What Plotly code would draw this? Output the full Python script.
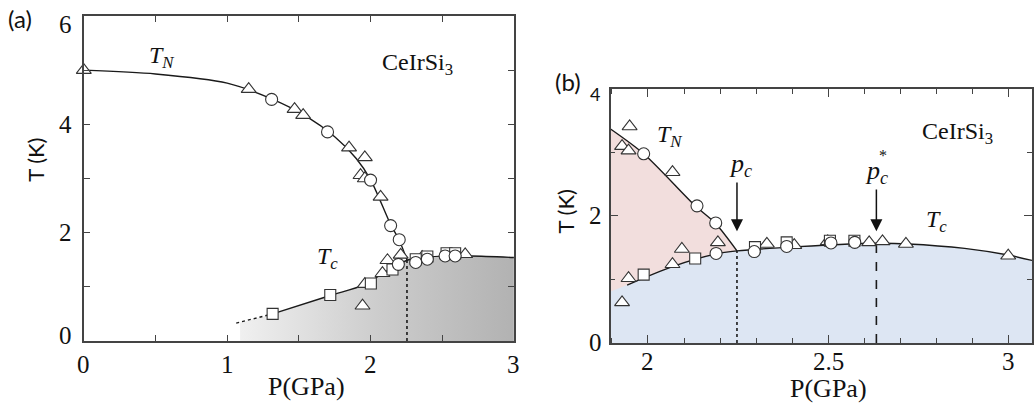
import plotly.graph_objects as go

# ---------------- Panel (a) data ----------------
a_tn_tri_p = [0.0, 1.15, 1.47, 1.53, 1.85, 1.96, 1.93, 1.96, 2.07]
a_tn_tri_t = [5.0, 4.65, 4.28, 4.17, 3.57, 3.39, 3.06, 3.00, 2.66]
a_tn_circ_p = [1.31, 1.70, 2.00, 2.14, 2.20]
a_tn_circ_t = [4.46, 3.86, 2.97, 2.13, 1.87]
a_tc_sq_p = [1.317, 1.719, 2.002, 2.153, 2.315, 2.396, 2.53, 2.59]
a_tc_sq_t = [0.50, 0.85, 1.06, 1.32, 1.51, 1.56, 1.62, 1.62]
a_tc_tri_p = [1.944, 1.96, 2.083, 2.118, 2.21, 2.36, 2.66]
a_tc_tri_t = [0.65, 1.05, 1.25, 1.49, 1.59, 1.55, 1.60]
a_tc_circ_p = [2.194, 2.315, 2.396, 2.52, 2.59]
a_tc_circ_t = [1.415, 1.45, 1.51, 1.57, 1.57]
a_tn_curve_p = [0.0, 0.5, 1.0, 1.31, 1.55, 1.75, 1.90, 2.00, 2.14, 2.20, 2.255]
a_tn_curve_t = [5.0, 4.93, 4.76, 4.47, 4.15, 3.77, 3.37, 2.98, 2.15, 1.86, 1.49]
a_tc_curve_p = [1.317, 1.719, 1.95, 2.10, 2.255, 2.40, 2.70, 3.00]
a_tc_curve_t = [0.50, 0.84, 1.03, 1.27, 1.49, 1.55, 1.57, 1.54]
a_tc_dot_p = [1.063, 1.317]
a_tc_dot_t = [0.33, 0.50]
a_fill_p = [1.09, 1.317, 1.719, 1.95, 2.10, 2.255, 2.40, 2.70, 3.00]
a_fill_t = [0.34, 0.50, 0.84, 1.03, 1.27, 1.49, 1.55, 1.57, 1.54]
a_pc_p = [2.254, 2.254]
a_pc_t = [0.0, 1.49]
a_xticks = [0, 1, 2, 3]
a_xtick_labels = ['0', '1', '2', '3']
a_yticks = [0, 2, 4, 6]
a_ytick_labels = ['0', '2', '4', '6']

# ---------------- Panel (b) data ----------------
b_tn_tri_p = [1.949, 1.928, 1.946, 2.068]
b_tn_tri_t = [3.41, 3.10, 3.03, 2.69]
b_tn_circ_p = [1.988, 2.136, 2.188]
b_tn_circ_t = [2.98, 2.16, 1.89]
b_tc_tri_p = [1.928, 1.946, 2.068, 2.094, 2.194, 2.33, 2.406, 2.499, 2.614, 2.651, 2.716, 3.0]
b_tc_tri_t = [0.64, 1.02, 1.24, 1.48, 1.585, 1.56, 1.54, 1.60, 1.585, 1.60, 1.56, 1.375]
b_tc_sq_p = [1.988, 2.131, 2.297, 2.385, 2.505, 2.573]
b_tc_sq_t = [1.076, 1.33, 1.51, 1.585, 1.61, 1.61]
b_tc_circ_p = [2.189, 2.295, 2.385, 2.508, 2.574]
b_tc_circ_t = [1.41, 1.44, 1.52, 1.575, 1.585]
b_tn_curve_p = [1.896, 1.988, 2.131, 2.187, 2.247]
b_tn_curve_t = [3.37, 2.98, 2.16, 1.885, 1.45]
b_tc_curve_p = [1.942, 2.066, 2.187, 2.247, 2.417, 2.63, 2.722, 2.879, 3.0, 3.066]
b_tc_curve_t = [0.913, 1.20, 1.40, 1.45, 1.517, 1.57, 1.56, 1.49, 1.385, 1.30]
b_blue_p = [1.896] + b_tc_curve_p
b_blue_t = [0.81] + b_tc_curve_t
b_pc_p = [2.247, 2.247]
b_pc_t = [0.0, 1.45]
b_pcs_p = [2.634, 2.634]
b_pcs_t = [0.0, 1.57]
b_xticks = [2, 2.5, 3]
b_xtick_labels = ['2', '2.5', '3']
b_yticks = [0, 2, 4]
b_ytick_labels = ['0', '2', '4']

LINE = '#1a1a1a'
MK = '#333333'
AX = '#444444'
SERIF = 'Liberation Serif'
SANS = 'Lato'

fig = go.Figure()

def line(x, y, xa, ya, dash='solid', width=1.4, shape='spline'):
    fig.add_trace(go.Scatter(x=x, y=y, mode='lines', xaxis=xa, yaxis=ya,
                             line=dict(color=LINE, width=width, dash=dash, shape=shape, smoothing=0.8),
                             hoverinfo='skip', showlegend=False))

def marks(x, y, xa, ya, sym, size):
    fig.add_trace(go.Scatter(x=x, y=y, mode='markers', xaxis=xa, yaxis=ya, cliponaxis=False,
                             marker=dict(symbol=sym, size=size, color='white',
                                         line=dict(color=MK, width=1.1)),
                             showlegend=False))

# Panel (a) fill with horizontal gradient
fig.add_trace(go.Scatter(x=a_fill_p, y=a_fill_t, mode='lines', xaxis='x', yaxis='y',
                         fill='tozeroy', line=dict(width=0, shape='spline', smoothing=0.8),
                         fillgradient=dict(type='horizontal',
                                           colorscale=[[0, '#f0f0f0'], [0.5, '#cdcdcd'], [1, '#b2b2b2']]),
                         hoverinfo='skip', showlegend=False))
line(a_tn_curve_p, a_tn_curve_t, 'x', 'y')
line(a_tc_curve_p, a_tc_curve_t, 'x', 'y')
line(a_tc_dot_p, a_tc_dot_t, 'x', 'y', dash='dot', shape='linear')
line(a_pc_p, a_pc_t, 'x', 'y', dash='dot', shape='linear', width=1.6)
marks(a_tn_tri_p, a_tn_tri_t, 'x', 'y', 'triangle-up', 13)
marks(a_tn_circ_p, a_tn_circ_t, 'x', 'y', 'circle', 12)
marks(a_tc_tri_p, a_tc_tri_t, 'x', 'y', 'triangle-up', 13)
marks(a_tc_sq_p, a_tc_sq_t, 'x', 'y', 'square', 11)
marks(a_tc_circ_p, a_tc_circ_t, 'x', 'y', 'circle', 12)

# Panel (b) fills
fig.add_trace(go.Scatter(x=b_tn_curve_p, y=b_tn_curve_t, mode='lines', xaxis='x2', yaxis='y2',
                         fill='tozeroy', fillcolor='#f2dedd', line=dict(width=0, shape='spline', smoothing=0.8),
                         hoverinfo='skip', showlegend=False))
fig.add_trace(go.Scatter(x=b_blue_p, y=b_blue_t, mode='lines', xaxis='x2', yaxis='y2',
                         fill='tozeroy', fillcolor='#dde6f3', line=dict(width=0, shape='spline', smoothing=0.8),
                         hoverinfo='skip', showlegend=False))
line(b_tn_curve_p, b_tn_curve_t, 'x2', 'y2')
line(b_tc_curve_p, b_tc_curve_t, 'x2', 'y2')
line(b_pc_p, b_pc_t, 'x2', 'y2', dash='dot', shape='linear', width=1.6)
line(b_pcs_p, b_pcs_t, 'x2', 'y2', dash='dash', shape='linear', width=1.6)
marks(b_tn_tri_p, b_tn_tri_t, 'x2', 'y2', 'triangle-up', 13)
marks(b_tn_circ_p, b_tn_circ_t, 'x2', 'y2', 'circle', 12)
marks(b_tc_tri_p, b_tc_tri_t, 'x2', 'y2', 'triangle-up', 13)
marks(b_tc_sq_p, b_tc_sq_t, 'x2', 'y2', 'square', 11)
marks(b_tc_circ_p, b_tc_circ_t, 'x2', 'y2', 'circle', 12)

def common():
    return dict(showline=True, linecolor=AX, linewidth=1.5, mirror='allticks', ticks='inside',
                tickcolor=AX, tickwidth=1.3, showgrid=False, zeroline=False,
                showticklabels=False, fixedrange=True)

fig.update_layout(
    width=1034, height=409, margin=dict(l=0, r=0, t=0, b=0),
    font=dict(family=SERIF, size=24, color='#111'),
    paper_bgcolor='white', plot_bgcolor='white', showlegend=False,
    xaxis=dict(domain=[0.0812, 0.498], range=[0, 3], tickvals=a_xticks, ticklen=6,
               minor=dict(tickvals=[0.5, 1.5, 2.5], ticks='inside', ticklen=6, tickcolor=AX, tickwidth=1.3),
               anchor='y', **common()),
    yaxis=dict(domain=[0.1663, 0.9609], range=[0, 6], tickvals=a_yticks, ticklen=6,
               minor=dict(tickvals=[1, 3, 5], ticks='inside', ticklen=6, tickcolor=AX, tickwidth=1.3),
               anchor='x', **common()),
    xaxis2=dict(domain=[0.5916, 1.0], range=[1.896, 3.066], tickvals=b_xticks, ticklen=8,
                minor=dict(tickvals=[1.9, 2.1, 2.2, 2.3, 2.4, 2.6, 2.7, 2.8, 2.9, 3.0],
                           ticks='inside', ticklen=5, tickcolor=AX, tickwidth=1.3),
                anchor='y2', **common()),
    yaxis2=dict(domain=[0.1614, 0.7824], range=[0, 4], tickvals=b_yticks, ticklen=8,
                minor=dict(tickvals=[1, 3], ticks='inside', ticklen=5, tickcolor=AX, tickwidth=1.3),
                anchor='x2', **common()),
)

def txt(x, y, s, xref, yref, size=24, family=SERIF, angle=0, color='#111',
        xanchor='center', yshift=0):
    fig.add_annotation(x=x, y=y, xref=xref, yref=yref, text=s, showarrow=False,
                       font=dict(family=family, size=size, color=color), textangle=angle,
                       xanchor=xanchor, yanchor='middle', yshift=yshift)

# Tick labels (drawn as text at the axis tick values)
for v, s in zip(a_xticks, a_xtick_labels):
    txt(v, 0.110, s, 'x', 'paper', size=25)
for v, s in zip(a_yticks, a_ytick_labels):
    sh = {0: 5, 6: -9}.get(v, 0)
    txt(0.0716, v, s, 'paper', 'y', size=25, xanchor='right', yshift=sh)
for v, s in zip(b_xticks, b_xtick_labels):
    txt(v, 0.115, s, 'x2', 'paper', size=25)
for v, s in zip(b_yticks, b_ytick_labels):
    if v == 4:
        txt(0.5835, v, s, 'paper', 'y2', size=18, family=SANS, xanchor='right', yshift=-5)
    else:
        txt(0.5855, v, s, 'paper', 'y2', size=25, xanchor='right')

# Titles and panel labels (paper coords)
txt(0.297, 0.054, 'P(GPa)', 'paper', 'paper', size=26)
txt(0.803, 0.051, 'P(GPa)', 'paper', 'paper', size=26)
txt(0.0348, 0.609, 'T (K)', 'paper', 'paper', size=22, family=SANS, angle=-90)
txt(0.548, 0.482, 'T (K)', 'paper', 'paper', size=22, family=SANS, angle=-90)
txt(0.0193, 0.954, '(a)', 'paper', 'paper', size=24, family=SANS)
txt(0.550, 0.80, '(b)', 'paper', 'paper', size=24, family=SANS)

# Panel (a) text
txt(0.54, 5.24, '<i>T</i><sub><i>N</i></sub>', 'x', 'y', size=24)
txt(2.33, 5.12, 'CeIrSi<sub>3</sub>', 'x', 'y', size=24)
txt(1.70, 1.53, '<i>T</i><sub><i>c</i></sub>', 'x', 'y', size=24)

# Panel (b) text
txt(2.06, 3.26, '<i>T</i><sub><i>N</i></sub>', 'x2', 'y2', size=24)
txt(2.86, 3.31, 'CeIrSi<sub>3</sub>', 'x2', 'y2', size=24)
txt(2.256, 2.80, '<i>p</i><sub><i>c</i></sub>', 'x2', 'y2', size=26)
txt(2.634, 2.70, '<i>p</i><sub><i>c</i></sub>', 'x2', 'y2', size=26)
txt(2.652, 2.95, '*', 'x2', 'y2', size=16)
txt(2.80, 1.92, '<i>T</i><sub><i>c</i></sub>', 'x2', 'y2', size=24)

# Arrows
for px, t0, t1 in [(2.247, 2.55, 1.76), (2.634, 2.44, 1.76)]:
    fig.add_annotation(x=px, y=t1, ax=px, ay=t0, xref='x2', yref='y2', axref='x2', ayref='y2',
                       text='', showarrow=True, arrowhead=2, arrowsize=1.6, arrowwidth=1.5,
                       arrowcolor='#111')

fig.write_html('out.html')
